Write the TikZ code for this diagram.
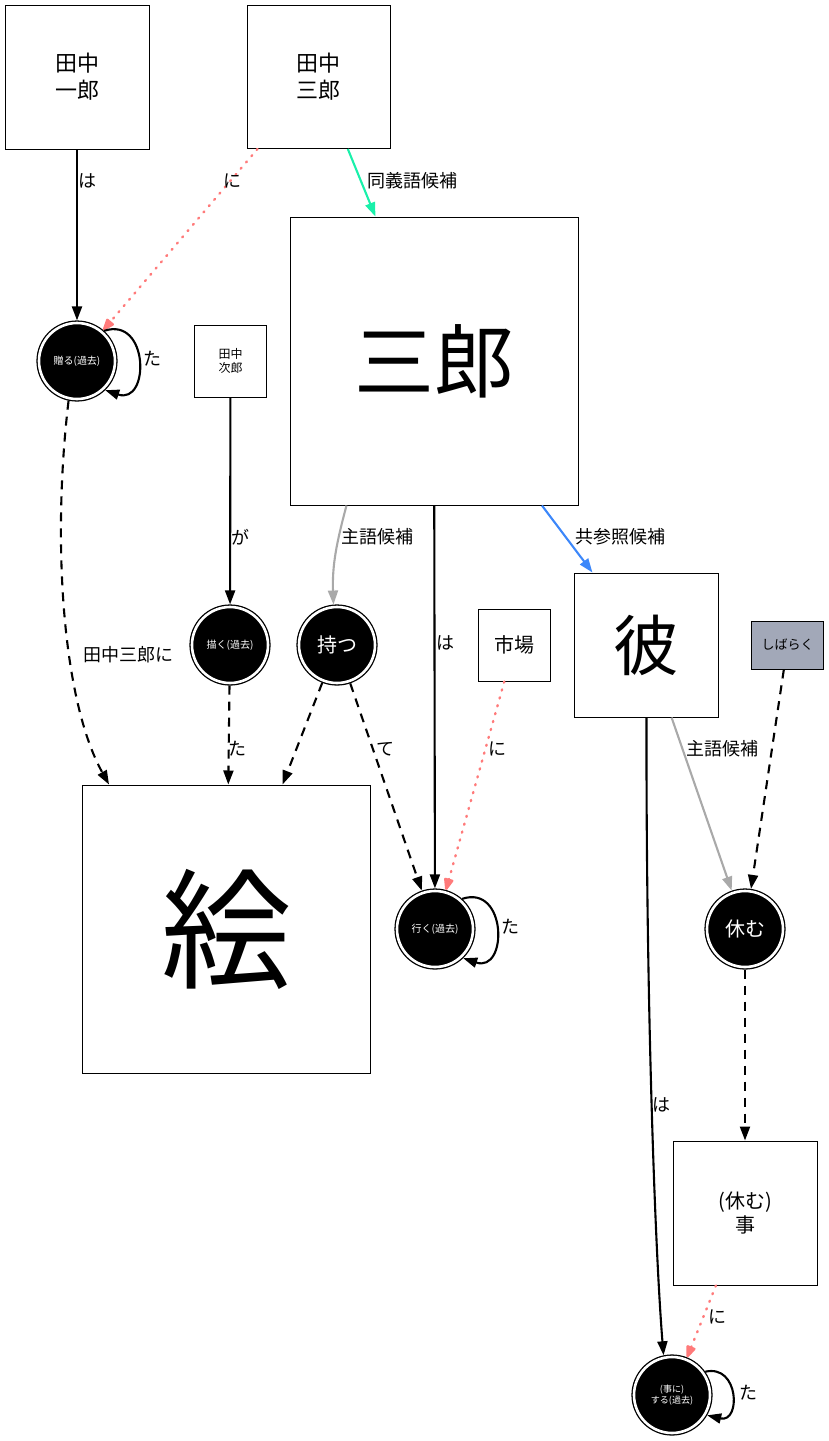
\documentclass[tikz,border=0pt]{standalone}
\usepackage{fontspec}
\setmainfont{Noto Sans CJK JP}
\usetikzlibrary{arrows.meta}
\definecolor{salmon}{RGB}{255,122,122}
\definecolor{tealg}{RGB}{25,240,170}
\definecolor{blueb}{RGB}{60,135,250}
\definecolor{grayb}{RGB}{169,169,169}
\definecolor{boxgray}{RGB}{162,168,184}
\begin{document}
\begin{tikzpicture}[x=1pt,y=1pt,
 box/.style={draw, line width=1pt, rectangle, inner sep=0pt, align=center, fill=white},
 dcirc/.style={circle, fill=black, draw=black, line width=1.3pt, double=white, double distance=2.6pt, minimum size=76pt, inner sep=0pt, outer sep=2.6pt, text=white, align=center},
 arr/.style={line width=2.1pt, -{Triangle[length=14pt,width=10pt]}},
 dashedge/.style={arr, dash pattern=on 9pt off 7pt},
 dotedge/.style={line width=2.4pt, salmon, dash pattern=on 1.2pt off 7pt, line cap=round, -{Triangle[length=14pt,width=10pt,round=false]}},
 lab/.style={font=\fontsize{18}{20}\selectfont, inner sep=0pt}
]
\useasboundingbox (0,0) rectangle (829,-1441);

% nodes
\node[box, minimum size=144pt, font=\fontsize{22}{27}\selectfont] (ichiro) at (77,-77) {田中\\一郎};
\node[box, minimum size=143pt, font=\fontsize{22}{27}\selectfont] (tsaburo) at (318.5,-77) {田中\\三郎};
\node[box, minimum size=288pt, font=\fontsize{80}{80}\selectfont] (saburo) at (434,-361) {三郎};
\node[dcirc, font=\fontsize{10}{12}\selectfont] (zoru) at (77,-361) {贈る(過去)};
\node[box, minimum size=72pt, font=\fontsize{12}{14}\selectfont] (jiro) at (230.5,-361) {田中\\次郎};
\node[dcirc, font=\fontsize{10}{12}\selectfont] (kaku) at (230,-645) {描く(過去)};
\node[dcirc, font=\fontsize{20}{24}\selectfont] (motsu) at (337,-645) {持つ};
\node[box, minimum size=72pt, font=\fontsize{20}{24}\selectfont] (ichiba) at (514.5,-645) {市場};
\node[box, minimum size=144pt, font=\fontsize{66}{70}\selectfont] (kare) at (646.5,-645) {彼};
\node[box, fill=boxgray, minimum width=72pt, minimum height=48pt, font=\fontsize{13}{15}\selectfont] (shibaraku) at (787.5,-645) {しばらく};
\node[box, minimum size=288pt, font=\fontsize{130}{130}\selectfont] (e) at (226.5,-929) {絵};
\node[dcirc, font=\fontsize{10}{12}\selectfont] (iku) at (435,-929) {行く(過去)};
\node[dcirc, font=\fontsize{20}{24}\selectfont] (yasumu) at (745,-929) {休む};
\node[box, minimum size=144pt, font=\fontsize{20}{24}\selectfont] (koto) at (745,-1213) {(休む)\\事};
\node[dcirc, font=\fontsize{9}{11}\selectfont] (suru) at (672,-1395) {(事に)\\する(過去)};

% edges
\draw[arr] (ichiro) -- (zoru);
\draw[dotedge] (tsaburo) -- (zoru);
\draw[arr, tealg] (tsaburo) -- (saburo);
\draw[arr] (zoru.48) .. controls +(45,15) and +(45,-15) .. (zoru.-46);
\draw[dashedge] (zoru.-102) .. controls (52,-540) and (62,-700) .. ([xshift=27pt]e.north west);
\draw[arr] (jiro) -- (kaku);
\draw[dashedge] (kaku) -- (e);
\draw[arr, grayb] ([xshift=57pt]saburo.south west) to[out=-105,in=92] (motsu.95);
\draw[arr] (saburo) -- (iku);
\draw[arr, blueb] (saburo) -- (kare);
\draw[dashedge] (motsu) -- (e);
\draw[dashedge] (motsu) -- (iku);
\draw[dotedge] (ichiba) -- (iku);
\draw[arr] (iku.48) .. controls +(45,15) and +(45,-15) .. (iku.-46);
\draw[arr, grayb] (kare) -- (yasumu);
\draw[dashedge] (shibaraku) -- (yasumu);
\draw[dashedge] (yasumu) -- (koto);
\draw[dotedge] (koto) -- (suru);
\draw[arr] (kare.south) .. controls (646,-1000) and (655,-1250) .. (suru.102);
\draw[arr] (suru.35) .. controls +(34,8) and +(34,-8) .. (suru.-30);

% labels
\node[lab] (l1) at (87,-181) {は};
\node[lab] (l2) at (232,-181) {に};
\node[lab] (l3) at (412,-181) {同義語候補};
\node[lab] (l4) at (152,-359) {た};
\node[lab] (l5) at (240,-537) {が};
\node[lab] (l6) at (377,-537) {主語候補};
\node[lab] (l7) at (620,-537) {共参照候補};
\node[lab] (l8) at (128,-655) {田中三郎に};
\node[lab] (l9) at (445,-643) {は};
\node[lab] (l10) at (237,-749) {た};
\node[lab] (l11) at (385,-749) {て};
\node[lab] (l12) at (497,-749) {に};
\node[lab] (l13) at (722,-749) {主語候補};
\node[lab] (l14) at (510,-927) {た};
\node[lab] (l15) at (661,-1105) {は};
\node[lab] (l16) at (717,-1317) {に};
\node[lab] (l17) at (748,-1393) {た};
\end{tikzpicture}
\end{document}
